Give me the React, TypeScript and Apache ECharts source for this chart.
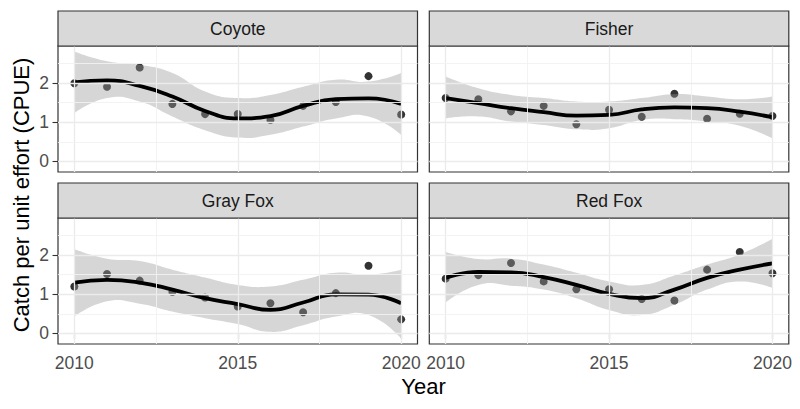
import React, { useEffect, useRef } from "react";
import * as echarts from "echarts";

const years = [2010, 2011, 2012, 2013, 2014, 2015, 2016, 2017, 2018, 2019, 2020];
const panelNames = ["Coyote", "Fisher", "Gray Fox", "Red Fox"];

const coyotePts = [2.0, 1.91, 2.4, 1.47, 1.21, 1.21, 1.06, 1.42, 1.52, 2.18, 1.2];
const coyoteFit = [2.02, 2.07, 1.93, 1.66, 1.29, 1.1, 1.16, 1.42, 1.59, 1.61, 1.47];
const coyoteLo = [1.23, 1.62, 1.53, 1.15, 0.8, 0.61, 0.68, 0.89, 1.1, 1.15, 0.68];
const coyoteHi = [2.81, 2.56, 2.47, 2.26, 1.79, 1.62, 1.7, 1.91, 2.09, 2.04, 2.26];

const fisherPts = [1.62, 1.59, 1.28, 1.42, 0.95, 1.32, 1.14, 1.73, 1.09, 1.22, 1.16];
const fisherFit = [1.62, 1.49, 1.36, 1.26, 1.17, 1.19, 1.33, 1.38, 1.36, 1.27, 1.13];
const fisherLo = [1.1, 1.15, 1.02, 0.93, 0.82, 0.85, 1.06, 1.08, 1.02, 0.91, 0.59];
const fisherHi = [2.17, 1.87, 1.7, 1.62, 1.53, 1.53, 1.62, 1.72, 1.66, 1.59, 1.66];

const grayFoxPts = [1.2, 1.52, 1.35, 1.06, 0.92, 0.69, 0.77, 0.54, 1.03, 1.73, 0.36];
const grayFoxFit = [1.3, 1.37, 1.3, 1.12, 0.9, 0.75, 0.6, 0.79, 1.0, 0.99, 0.77];
const grayFoxLo = [0.43, 0.82, 0.76, 0.56, 0.39, 0.24, 0.04, 0.21, 0.43, 0.47, -0.13];
const grayFoxHi = [2.16, 1.91, 1.85, 1.63, 1.43, 1.24, 1.2, 1.37, 1.55, 1.5, 1.63];

const redFoxPts = [1.4, 1.49, 1.8, 1.33, 1.13, 1.13, 0.88, 0.84, 1.63, 2.08, 1.54];
const redFoxFit = [1.42, 1.57, 1.56, 1.44, 1.24, 1.01, 0.9, 1.12, 1.42, 1.63, 1.79];
const redFoxLo = [0.79, 1.24, 1.22, 1.12, 0.9, 0.6, 0.47, 0.73, 1.12, 1.33, 1.16];
const redFoxHi = [2.08, 1.9, 1.91, 1.76, 1.55, 1.33, 1.24, 1.48, 1.76, 2.02, 2.42];

const xTickLabels = [2010, 2015, 2020];
const yTickLabels = [0, 1, 2];
const xMinorGrid = [2012.5, 2017.5];
const yMinorGrid = [0.5, 1.5, 2.5];

const panelData = [
  { pts: coyotePts, fit: coyoteFit, lo: coyoteLo, hi: coyoteHi },
  { pts: fisherPts, fit: fisherFit, lo: fisherLo, hi: fisherHi },
  { pts: grayFoxPts, fit: grayFoxFit, lo: grayFoxLo, hi: grayFoxHi },
  { pts: redFoxPts, fit: redFoxFit, lo: redFoxLo, hi: redFoxHi },
];

const FONT = "'Liberation Sans', Arial, sans-serif";

function smoothEdge(ctx: any, pts: number[][], smooth: number, move: boolean) {
  const n = pts.length;
  if (move) ctx.moveTo(pts[0][0], pts[0][1]);
  else ctx.lineTo(pts[0][0], pts[0][1]);
  let cp0x = pts[0][0];
  let cp0y = pts[0][1];
  for (let i = 1; i < n; i++) {
    const x = pts[i][0];
    const y = pts[i][1];
    let cp1x = x, cp1y = y, ncx = x, ncy = y;
    if (i < n - 1) {
      const px = pts[i - 1][0], py = pts[i - 1][1];
      const nx = pts[i + 1][0], ny = pts[i + 1][1];
      const vx = nx - px, vy = ny - py;
      const l0 = Math.hypot(x - px, y - py);
      const l1 = Math.hypot(nx - x, ny - y);
      const r = l0 + l1 > 0 ? l1 / (l0 + l1) : 0.5;
      cp1x = x - vx * smooth * (1 - r);
      cp1y = y - vy * smooth * (1 - r);
      ncx = x + vx * smooth * r;
      ncy = y + vy * smooth * r;
    }
    ctx.bezierCurveTo(cp0x, cp0y, cp1x, cp1y, x, y);
    cp0x = ncx;
    cp0y = ncy;
  }
}

const BandShape = (echarts.graphic as any).extendShape({
  type: "band",
  shape: { upper: [], lower: [], smooth: 0.5 },
  buildPath(ctx: any, shape: any) {
    if (!shape.upper.length) return;
    smoothEdge(ctx, shape.upper, shape.smooth, true);
    smoothEdge(ctx, shape.lower.slice().reverse(), shape.smooth, false);
    ctx.closePath();
  },
});
(echarts.graphic as any).registerShape("band", BandShape);

export default function App() {
  const ref = useRef<HTMLDivElement>(null);
  useEffect(() => {
    if (!ref.current) return;
    const chart = echarts.init(ref.current, null, { renderer: "svg" });
    const lefts = [58, 429.3];
    const tops = [46, 218];
    const W = 359.5;
    const H = 126;
    const grids: any[] = [];
    const xAxes: any[] = [];
    const yAxes: any[] = [];
    const series: any[] = [];
    const graphics: any[] = [];

    panelNames.forEach((name, i) => {
      const col = i % 2;
      const row = Math.floor(i / 2);
      const left = lefts[col];
      const top = tops[row];
      grids.push({
        left,
        top,
        width: W,
        height: H,
        show: true,
        backgroundColor: "#FFFFFF",
        borderColor: "#333333",
        borderWidth: 1.2,
        z: 0,
      });
      const bottomRow = row === 1;
      const leftCol = col === 0;
      xAxes.push({
        type: "value",
        gridIndex: i,
        min: 2009.5,
        max: 2020.5,
        axisLine: { show: false },
        splitLine: { show: false },
        axisTick: {
          show: bottomRow,
          customValues: xTickLabels,
          length: 5.5,
          lineStyle: { color: "#333333", width: 1.1 },
        },
        axisLabel: {
          show: bottomRow,
          customValues: xTickLabels,
          formatter: (v: number) => String(v),
          color: "#4D4D4D",
          fontSize: 17.5,
          fontFamily: FONT,
          margin: 10,
        },
      });
      yAxes.push({
        type: "value",
        gridIndex: i,
        min: -0.27,
        max: 2.95,
        axisLine: { show: false },
        splitLine: { show: false },
        axisTick: {
          show: leftCol,
          customValues: yTickLabels,
          length: 5.5,
          lineStyle: { color: "#333333", width: 1.1 },
        },
        axisLabel: {
          show: leftCol,
          customValues: yTickLabels,
          color: "#4D4D4D",
          fontSize: 17.5,
          fontFamily: FONT,
          margin: 9,
        },
      });

      const major = { color: "#EBEBEB", width: 1.3, type: "solid" };
      const minor = { color: "#F2F2F2", width: 0.9, type: "solid" };
      const mlData: any[] = [];
      xTickLabels.forEach((v) => mlData.push({ xAxis: v, lineStyle: major }));
      xMinorGrid.forEach((v) => mlData.push({ xAxis: v, lineStyle: minor }));
      yTickLabels.forEach((v) => mlData.push({ yAxis: v, lineStyle: major }));
      yMinorGrid.forEach((v) => mlData.push({ yAxis: v, lineStyle: minor }));

      series.push({
        type: "line",
        xAxisIndex: i,
        yAxisIndex: i,
        data: [],
        z: 1,
        silent: true,
        markLine: {
          silent: true,
          symbol: ["none", "none"],
          label: { show: false },
          emphasis: { disabled: true },
          data: mlData,
        },
      });

      const d = panelData[i];
      series.push({
        type: "scatter",
        xAxisIndex: i,
        yAxisIndex: i,
        data: years.map((y, k) => [y, d.pts[k]]),
        symbolSize: 8,
        itemStyle: { color: "#000000" },
        z: 2,
      });
      series.push({
        type: "custom",
        xAxisIndex: i,
        yAxisIndex: i,
        z: 3,
        silent: true,
        data: years.map((y, k) => [y, d.lo[k], d.hi[k]]),
        encode: { x: 0, y: [1, 2] },
        renderItem: (params: any, api: any) => {
          if (params.dataIndex !== 0) return null;
          const upper = years.map((y, k) => api.coord([y, d.hi[k]]));
          const lower = years.map((y, k) => api.coord([y, d.lo[k]]));
          return {
            type: "band",
            shape: { upper, lower, smooth: 0.5 },
            style: { fill: "rgba(153,153,153,0.4)", stroke: "none" },
          };
        },
      });
      series.push({
        type: "line",
        xAxisIndex: i,
        yAxisIndex: i,
        data: years.map((y, k) => [y, d.fit[k]]),
        symbol: "none",
        smooth: 0.5,
        lineStyle: { color: "#000000", width: 3.8 },
        z: 4,
      });

      graphics.push({
        type: "rect",
        shape: { x: left, y: top - 35, width: W, height: 35 },
        style: { fill: "#D9D9D9", stroke: "#333333", lineWidth: 1.2 },
        z: 10,
      });
      graphics.push({
        type: "text",
        x: left + W / 2,
        y: top - 17.5,
        style: {
          text: name,
          fill: "#1A1A1A",
          font: `17.5px ${FONT}`,
          textAlign: "center",
          textVerticalAlign: "middle",
        },
        z: 11,
      });
    });

    graphics.push({
      type: "text",
      x: 423.5,
      y: 386,
      style: {
        text: "Year",
        fill: "#000000",
        font: `22px ${FONT}`,
        textAlign: "center",
        textVerticalAlign: "middle",
      },
    });
    graphics.push({
      type: "text",
      x: 21,
      y: 195,
      rotation: Math.PI / 2,
      style: {
        text: "Catch per unit effort (CPUE)",
        fill: "#000000",
        font: `22px ${FONT}`,
        textAlign: "center",
        textVerticalAlign: "middle",
      },
    });

    chart.setOption({
      animation: false,
      backgroundColor: "#FFFFFF",
      grid: grids,
      xAxis: xAxes,
      yAxis: yAxes,
      series,
      graphic: graphics,
    });
    return () => chart.dispose();
  }, []);
  return (
    <div
      ref={ref}
      style={{ position: "absolute", left: 0, top: 0, width: 800, height: 409 }}
    />
  );
}
